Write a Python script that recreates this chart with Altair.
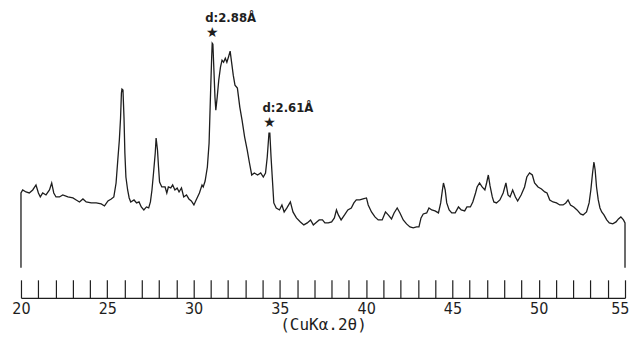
import altair as alt
import pandas as pd

# ---- data (2θ in degrees, intensity in arbitrary units) ----
two_theta = [
    20.00, 20.00, 20.10, 20.29, 20.48, 20.68, 20.87, 21.01, 21.12, 21.26, 21.45, 21.65, 21.78, 21.90,
    22.03, 22.23, 22.42, 22.72, 23.01, 23.20, 23.39, 23.59, 23.78, 24.07, 24.36, 24.65, 24.84, 25.04,
    25.23, 25.38, 25.51, 25.61, 25.70, 25.77, 25.82, 25.85, 25.91, 25.97, 26.02, 26.08, 26.18, 26.27,
    26.36, 26.55, 26.70, 26.84, 26.97, 27.12, 27.27, 27.40, 27.50, 27.59, 27.68, 27.78, 27.83, 27.91,
    27.97, 28.03, 28.16, 28.35, 28.45, 28.54, 28.68, 28.79, 28.92, 29.05, 29.16, 29.30, 29.43, 29.59,
    29.73, 29.87, 30.02, 30.15, 30.34, 30.49, 30.56, 30.67, 30.80, 30.90, 30.99, 31.05, 31.08, 31.12,
    31.18, 31.24, 31.29, 31.37, 31.46, 31.56, 31.65, 31.74, 31.84, 31.93, 32.02, 32.12, 32.21, 32.30,
    32.40, 32.54, 32.68, 32.81, 32.96, 33.11, 33.24, 33.37, 33.52, 33.71, 33.89, 34.04, 34.17, 34.27,
    34.37, 34.42, 34.49, 34.57, 34.65, 34.79, 34.98, 35.12, 35.25, 35.41, 35.61, 35.76, 35.96, 36.19,
    36.39, 36.59, 36.78, 36.94, 37.14, 37.28, 37.47, 37.61, 37.81, 38.00, 38.16, 38.28, 38.39, 38.55,
    38.75, 38.94, 39.14, 39.29, 39.43, 39.63, 39.82, 40.02, 40.12, 40.31, 40.51, 40.70, 40.93, 41.12,
    41.28, 41.47, 41.62, 41.80, 41.96, 42.15, 42.34, 42.54, 42.73, 42.92, 43.06, 43.18, 43.31, 43.51,
    43.64, 43.80, 43.99, 44.19, 44.32, 44.42, 44.48, 44.58, 44.67, 44.81, 44.96, 45.16, 45.35, 45.51,
    45.71, 45.84, 46.04, 46.18, 46.34, 46.43, 46.57, 46.72, 46.88, 46.98, 47.08, 47.18, 47.31, 47.40,
    47.55, 47.75, 47.94, 48.10, 48.22, 48.34, 48.49, 48.65, 48.78, 48.98, 49.18, 49.31, 49.47, 49.63,
    49.76, 49.96, 50.16, 50.35, 50.48, 50.64, 50.83, 51.03, 51.22, 51.41, 51.57, 51.70, 51.84, 52.03,
    52.22, 52.42, 52.57, 52.77, 52.92, 53.02, 53.12, 53.20, 53.27, 53.35, 53.45, 53.55, 53.65, 53.78,
    53.94, 54.09, 54.29, 54.48, 54.62, 54.76, 54.91, 55.00, 55.00,
]
intensity = [
    0, 75, 78, 76, 75, 78, 83, 75, 71, 75, 73, 78, 85, 75,
    71, 71, 73, 71, 70, 68, 66, 69, 66, 65, 65, 64, 62, 67,
    69, 71, 85, 108, 128, 150, 175, 179, 178, 150, 115, 91, 78, 70,
    66, 68, 65, 66, 61, 58, 61, 60, 66, 78, 95, 115, 130, 118,
    101, 86, 81, 81, 75, 81, 80, 83, 78, 80, 76, 80, 71, 73,
    69, 67, 63, 68, 75, 83, 81, 87, 101, 125, 178, 211, 225, 224,
    198, 171, 158, 171, 188, 201, 208, 206, 210, 206, 211, 217, 205, 193,
    183, 180, 161, 148, 131, 118, 105, 93, 95, 93, 95, 91, 95, 111,
    135, 135, 111, 88, 65, 60, 58, 63, 56, 60, 66, 56, 50, 46,
    43, 45, 48, 43, 46, 48, 48, 45, 45, 46, 50, 58, 53, 48,
    53, 58, 60, 65, 68, 68, 69, 70, 63, 56, 51, 48, 48, 56,
    53, 49, 55, 60, 55, 48, 44, 41, 40, 41, 41, 50, 54, 55,
    60, 58, 57, 55, 65, 78, 85, 78, 65, 58, 55, 55, 61, 58,
    57, 61, 61, 66, 75, 81, 85, 81, 78, 85, 93, 82, 71, 66,
    65, 68, 75, 85, 73, 71, 78, 71, 67, 73, 81, 91, 95, 93,
    85, 81, 79, 76, 75, 68, 66, 65, 63, 63, 65, 68, 63, 61,
    58, 54, 53, 56, 65, 78, 95, 106, 98, 81, 68, 60, 56, 53,
    48, 45, 44, 46, 49, 51, 48, 45, 0,
]

peak_two_theta = [31.08, 34.40]
peak_intensity = [225, 135]
peak_labels = ["d:2.88Å", "d:2.61Å"]

tick_values = list(range(20, 56))
x_title = "(CuKα.2θ)"

ink = "#1e1e1e"
W = 605

df = pd.DataFrame({"two_theta": two_theta, "intensity": intensity,
                   "i": list(range(len(two_theta)))})
peaks = pd.DataFrame({"two_theta": peak_two_theta, "intensity": peak_intensity,
                      "label": peak_labels})
ticks_df = pd.DataFrame({"two_theta": tick_values})

xscale = alt.Scale(domain=[20, 55], nice=False, zero=False)
yscale = alt.Scale(domain=[0, 260], nice=False, zero=True)

line = alt.Chart(df).mark_line(color=ink, strokeWidth=1.3).encode(
    x=alt.X("two_theta:Q", scale=xscale, axis=None),
    y=alt.Y("intensity:Q", scale=yscale, axis=None),
    order=alt.Order("i:Q"),
)

stars = alt.Chart(peaks).mark_text(
    text="★", fontSize=14, dy=-10, color=ink, font="DejaVu Sans"
).encode(
    x=alt.X("two_theta:Q", scale=xscale, axis=None),
    y=alt.Y("intensity:Q", scale=yscale, axis=None),
)

labels = alt.Chart(peaks).mark_text(
    align="left", dx=-7, dy=-25, fontSize=13, fontWeight="bold",
    font="DejaVu Sans Condensed", color=ink,
).encode(
    x=alt.X("two_theta:Q", scale=xscale, axis=None),
    y=alt.Y("intensity:Q", scale=yscale, axis=None),
    text="label:N",
)

top = alt.layer(line, stars, labels).properties(width=W, height=260)

axis_view = alt.Chart(ticks_df).mark_point(opacity=0).encode(
    x=alt.X(
        "two_theta:Q",
        scale=xscale,
        title=x_title,
        axis=alt.Axis(
            values=tick_values,
            grid=True, gridColor=ink, gridWidth=1.2, gridOpacity=1,
            ticks=False, tickSize=0,
            domain=True, domainColor=ink, domainWidth=1.3,
            labelExpr="datum.value % 5 == 0 ? datum.label : ''",
            labelFlush=False, labelOverlap=False,
            labelAlign={"condition": {"test": "datum.value == 55", "value": "right"},
                        "value": "center"},
            labelOffset={"condition": {"test": "datum.value == 55", "value": 4},
                         "value": 0},
            labelFont="Liberation Sans Narrow, DejaVu Sans Condensed, sans-serif",
            labelFontSize=16, labelColor=ink, labelPadding=3,
            titleFont="DejaVu Sans Mono", titleFontSize=16, titleFontWeight="normal",
            titleColor=ink, titlePadding=0,
        ),
    ),
).properties(width=W, height=18)

pad = {"left": 3, "top": 0, "right": 0, "bottom": 0}

chart = alt.vconcat(top, axis_view, spacing=12, bounds="flush").properties(
    padding=pad
).configure(background="white", padding=pad).configure_view(stroke=None)

chart.save("out.html", embed_options={"renderer": "svg", "actions": False})
